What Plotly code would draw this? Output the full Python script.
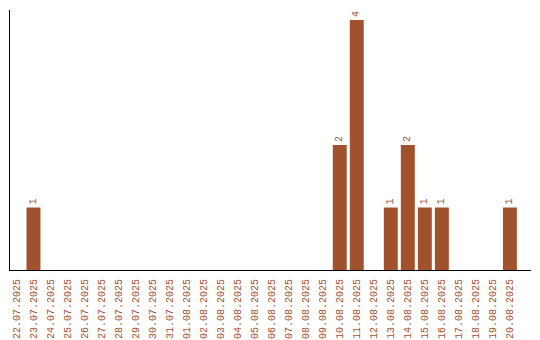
import plotly.graph_objects as go

dates = ["22.07.2025", "23.07.2025", "24.07.2025", "25.07.2025", "26.07.2025",
         "27.07.2025", "28.07.2025", "29.07.2025", "30.07.2025", "31.07.2025",
         "01.08.2025", "02.08.2025", "03.08.2025", "04.08.2025", "05.08.2025",
         "06.08.2025", "07.08.2025", "08.08.2025", "09.08.2025", "10.08.2025",
         "11.08.2025", "12.08.2025", "13.08.2025", "14.08.2025", "15.08.2025",
         "16.08.2025", "17.08.2025", "18.08.2025", "19.08.2025", "20.08.2025"]
counts = [0, 1, 0, 0, 0, 0, 0, 0, 0, 0,
          0, 0, 0, 0, 0, 0, 0, 0, 0, 2,
          4, 0, 1, 2, 1, 1, 0, 0, 0, 1]
labels = [str(c) if c else "" for c in counts]

color = "#A0522D"
font = "Liberation Mono"

fig = go.Figure(go.Bar(
    x=dates, y=counts, marker_color=color, marker_line_width=0,
    text=labels, textposition="outside", textangle=-90,
    textfont=dict(family=font, size=10, color=color),
    cliponaxis=False,
))
fig.update_layout(
    width=540, height=340,
    margin=dict(l=10, r=9, t=10, b=70, autoexpand=False),
    plot_bgcolor="white", paper_bgcolor="white",
    bargap=0.18, showlegend=False,
    font=dict(family=font, size=10, color=color),
)
fig.update_xaxes(type="category", range=[-0.38, 30.24], showline=True, linecolor="black",
                 linewidth=1, showgrid=False, ticks="", tickangle=-90, automargin=False,
                 ticklabelstandoff=4,
                 tickfont=dict(family=font, size=10, color=color))
fig.update_yaxes(range=[0, 4.16], showline=True, linecolor="black", linewidth=1,
                 showgrid=False, showticklabels=False, ticks="", zeroline=False,
                 automargin=False)
fig.write_html("out.html")
